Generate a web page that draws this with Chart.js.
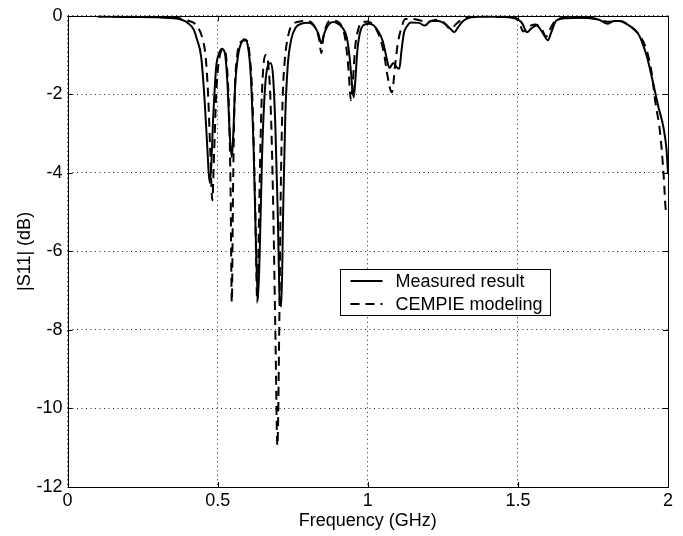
<!DOCTYPE html>
<html>
<head>
<meta charset="utf-8">
<script src="https://cdn.jsdelivr.net/npm/chart.js@4.4.1/dist/chart.umd.min.js"></script>
<style>
  html, body { margin: 0; padding: 0; background: #fff; }
  #wrap { width: 683px; height: 536px; }
</style>
</head>
<body>
<div id="wrap"><canvas id="s11"></canvas></div>
<script>
// measured |S11| (solid)
var freqMeasured = [0.10, 0.20, 0.30, 0.35, 0.38, 0.40, 0.42, 0.43, 0.445, 0.456, 0.465, 0.473, 0.478, 0.485, 0.495, 0.505, 0.515, 0.525, 0.533, 0.540, 0.547, 0.552, 0.558, 0.568, 0.578, 0.590, 0.600, 0.610, 0.620, 0.628, 0.634, 0.640, 0.648, 0.658, 0.668, 0.676, 0.684, 0.692, 0.700, 0.707, 0.712, 0.718, 0.725, 0.733, 0.745, 0.760, 0.780, 0.800, 0.820, 0.835, 0.845, 0.855, 0.870, 0.885, 0.900, 0.915, 0.930, 0.940, 0.948, 0.953, 0.958, 0.965, 0.975, 0.990, 1.005, 1.020, 1.035, 1.050, 1.062, 1.072, 1.085, 1.095, 1.105, 1.112, 1.120, 1.130, 1.145, 1.170, 1.190, 1.210, 1.235, 1.260, 1.275, 1.288, 1.300, 1.315, 1.330, 1.360, 1.400, 1.450, 1.480, 1.500, 1.515, 1.530, 1.545, 1.562, 1.580, 1.600, 1.612, 1.628, 1.660, 1.700, 1.740, 1.770, 1.800, 1.820, 1.840, 1.860, 1.880, 1.900, 1.910, 1.930, 1.950, 1.968, 1.985, 1.995, 2.000];
var s11Measured = [-0.02, -0.03, -0.04, -0.06, -0.10, -0.18, -0.35, -0.58, -1.05, -2.1, -3.3, -4.25, -3.9, -2.6, -1.3, -0.95, -0.84, -1.0, -1.8, -3.0, -3.6, -3.0, -1.8, -1.0, -0.70, -0.60, -0.75, -1.5, -3.5, -6.0, -7.2, -6.0, -3.5, -1.8, -1.25, -1.2, -1.5, -2.8, -5.0, -7.3, -7.4, -5.0, -2.6, -1.3, -0.6, -0.30, -0.20, -0.18, -0.25, -0.45, -0.70, -0.45, -0.22, -0.16, -0.20, -0.30, -0.55, -1.1, -1.8, -2.08, -1.7, -0.9, -0.4, -0.22, -0.20, -0.25, -0.40, -0.65, -1.05, -1.33, -1.2, -1.3, -1.35, -0.9, -0.45, -0.27, -0.17, -0.18, -0.25, -0.13, -0.13, -0.22, -0.33, -0.42, -0.30, -0.15, -0.07, -0.03, -0.02, -0.03, -0.05, -0.09, -0.2, -0.42, -0.32, -0.25, -0.4, -0.62, -0.4, -0.12, -0.06, -0.05, -0.06, -0.1, -0.2, -0.13, -0.13, -0.2, -0.3, -0.45, -0.6, -1.05, -1.7, -2.32, -2.85, -3.4, -4.0];

// CEMPIE modeling (dashed)
var freqModel = [0.10, 0.20, 0.30, 0.36, 0.40, 0.43, 0.45, 0.46, 0.468, 0.475, 0.482, 0.488, 0.495, 0.505, 0.520, 0.530, 0.538, 0.543, 0.547, 0.551, 0.556, 0.565, 0.580, 0.595, 0.605, 0.615, 0.624, 0.632, 0.638, 0.645, 0.652, 0.660, 0.668, 0.676, 0.684, 0.692, 0.699, 0.705, 0.710, 0.716, 0.722, 0.735, 0.750, 0.780, 0.800, 0.825, 0.838, 0.845, 0.852, 0.865, 0.880, 0.900, 0.915, 0.925, 0.935, 0.944, 0.950, 0.958, 0.970, 0.985, 1.000, 1.020, 1.040, 1.055, 1.065, 1.080, 1.092, 1.100, 1.113, 1.125, 1.150, 1.175, 1.200, 1.230, 1.255, 1.276, 1.295, 1.320, 1.360, 1.450, 1.490, 1.505, 1.518, 1.535, 1.560, 1.580, 1.594, 1.610, 1.625, 1.660, 1.740, 1.800, 1.840, 1.880, 1.910, 1.929, 1.946, 1.957, 1.974, 1.985, 1.993, 2.000];
var s11Model = [-0.01, -0.02, -0.03, -0.05, -0.12, -0.25, -0.6, -1.05, -2.0, -3.4, -4.7, -3.5, -2.0, -1.1, -0.85, -1.2, -2.5, -4.5, -7.3, -4.5, -2.2, -1.0, -0.65, -0.62, -0.9, -2.0, -4.5, -7.3, -5.0, -2.5, -1.3, -1.0, -1.2, -2.2, -4.5, -8.0, -10.95, -8.0, -4.5, -2.2, -1.27, -0.5, -0.22, -0.14, -0.13, -0.3, -0.6, -0.95, -0.55, -0.2, -0.12, -0.15, -0.3, -0.6, -1.3, -2.15, -1.7, -0.8, -0.3, -0.15, -0.15, -0.25, -0.55, -1.0, -1.5, -1.95, -1.2, -0.7, -0.28, -0.08, -0.08, -0.12, -0.15, -0.1, -0.18, -0.34, -0.2, -0.07, -0.02, -0.02, -0.05, -0.18, -0.40, -0.28, -0.22, -0.35, -0.53, -0.3, -0.12, -0.05, -0.05, -0.15, -0.13, -0.3, -0.55, -0.88, -1.47, -2.15, -3.0, -4.0, -4.96, -5.05];

var seriesNames = ["Measured result", "CEMPIE modeling"];
var xTickLabels = ["0", "0.5", "1", "1.5", "2"];
var yTickLabels = ["-12", "-10", "-8", "-6", "-4", "-2", "0"];

function pairs(xs, ys) {
    return xs.map(function (x, i) { return { x: x, y: ys[i] }; });
}

var fontName = '"Liberation Sans", Arial, Helvetica, sans-serif';

// frame, inward ticks and the boxed legend, MATLAB style
var framePlugin = {
    id: 'frame',
    beforeDraw: function (chart) {
        var ctx = chart.ctx;
        ctx.save();
        ctx.fillStyle = '#fff';
        ctx.fillRect(0, 0, chart.width, chart.height);
        ctx.restore();
    },
    afterDraw: function (chart) {
        var ctx = chart.ctx, a = chart.chartArea;
        var xs = chart.scales.x, ys = chart.scales.y;
        ctx.save();
        ctx.strokeStyle = '#000';
        ctx.lineWidth = 1;
        ctx.setLineDash([]);
        ctx.strokeRect(Math.round(a.left) + 0.5, Math.round(a.top) + 0.5,
            Math.round(a.right - a.left), Math.round(a.bottom - a.top));
        ctx.beginPath();
        xs.ticks.forEach(function (t) {
            var px = Math.round(xs.getPixelForValue(t.value)) + 0.5;
            ctx.moveTo(px, a.bottom); ctx.lineTo(px, a.bottom - 5);
            ctx.moveTo(px, a.top); ctx.lineTo(px, a.top + 5);
        });
        ys.ticks.forEach(function (t) {
            var py = Math.round(ys.getPixelForValue(t.value)) + 0.5;
            ctx.moveTo(a.left, py); ctx.lineTo(a.left + 5, py);
            ctx.moveTo(a.right, py); ctx.lineTo(a.right - 5, py);
        });
        ctx.stroke();

        // legend box
        var bx = 340.5, by = 269.5, bw = 210, bh = 46;
        ctx.fillStyle = '#fff';
        ctx.fillRect(bx, by, bw, bh);
        ctx.strokeRect(bx, by, bw, bh);
        ctx.font = '18px ' + fontName;
        ctx.textBaseline = 'middle';
        ctx.fillStyle = '#000';
        chart.data.datasets.forEach(function (ds, i) {
            var ly = by + 11.5 + i * 23;
            ctx.beginPath();
            ctx.lineWidth = ds.borderWidth;
            ctx.setLineDash(ds.borderDash || []);
            ctx.moveTo(bx + 10, ly);
            ctx.lineTo(bx + 42, ly);
            ctx.stroke();
            ctx.setLineDash([]);
            ctx.fillText(ds.label, bx + 55, ly + 1);
        });
        ctx.restore();
    }
};

var ctxEl = document.getElementById("s11");
var s11Chart = new Chart(ctxEl, {
    type: 'line',
    data: {
        datasets: [{
            label: seriesNames[0],
            data: pairs(freqMeasured, s11Measured),
            borderColor: '#000',
            borderWidth: 2,
            pointRadius: 0,
            cubicInterpolationMode: 'monotone',
            fill: false
        }, {
            label: seriesNames[1],
            data: pairs(freqModel, s11Model),
            borderColor: '#000',
            borderWidth: 2,
            borderDash: [9, 6],
            pointRadius: 0,
            cubicInterpolationMode: 'monotone',
            fill: false
        }]
    },
    options: {
        responsive: true,
        maintainAspectRatio: false,
        animation: false,
        layout: { padding: { left: 0, right: 15, top: 15, bottom: 0 } },
        plugins: {
            legend: { display: false },
            tooltip: { enabled: false }
        },
        scales: {
            x: {
                type: 'linear',
                min: 0,
                max: 2,
                afterFit: function (s) { s.height = 49; },
                // in v4 border.dash styles the grid lines
                border: { display: false, dash: [1, 3.5] },
                grid: {
                    color: '#222',
                    lineWidth: 1,
                    drawTicks: false
                },
                ticks: {
                    stepSize: 0.5,
                    padding: 3,
                    color: '#000',
                    font: { family: fontName, size: 18 },
                    maxRotation: 0,
                    callback: function (v, i) { return xTickLabels[i]; }
                },
                title: {
                    display: true,
                    text: 'Frequency (GHz)',
                    color: '#000',
                    font: { family: fontName, size: 18 },
                    padding: { top: 0, bottom: 4 }
                }
            },
            y: {
                type: 'linear',
                min: -12,
                max: 0,
                afterFit: function (s) { s.width = 67.6; },
                border: { display: false, dash: [1, 3.5] },
                grid: {
                    color: '#222',
                    lineWidth: 1,
                    drawTicks: false
                },
                ticks: {
                    stepSize: 2,
                    padding: 5,
                    color: '#000',
                    font: { family: fontName, size: 18 },
                    callback: function (v, i) { return yTickLabels[i]; }
                },
                title: {
                    display: true,
                    text: '|S11| (dB)',
                    color: '#000',
                    font: { family: fontName, size: 18 },
                    padding: { top: 14, bottom: 0 }
                }
            }
        }
    },
    plugins: [framePlugin]
});
</script>
</body>
</html>
